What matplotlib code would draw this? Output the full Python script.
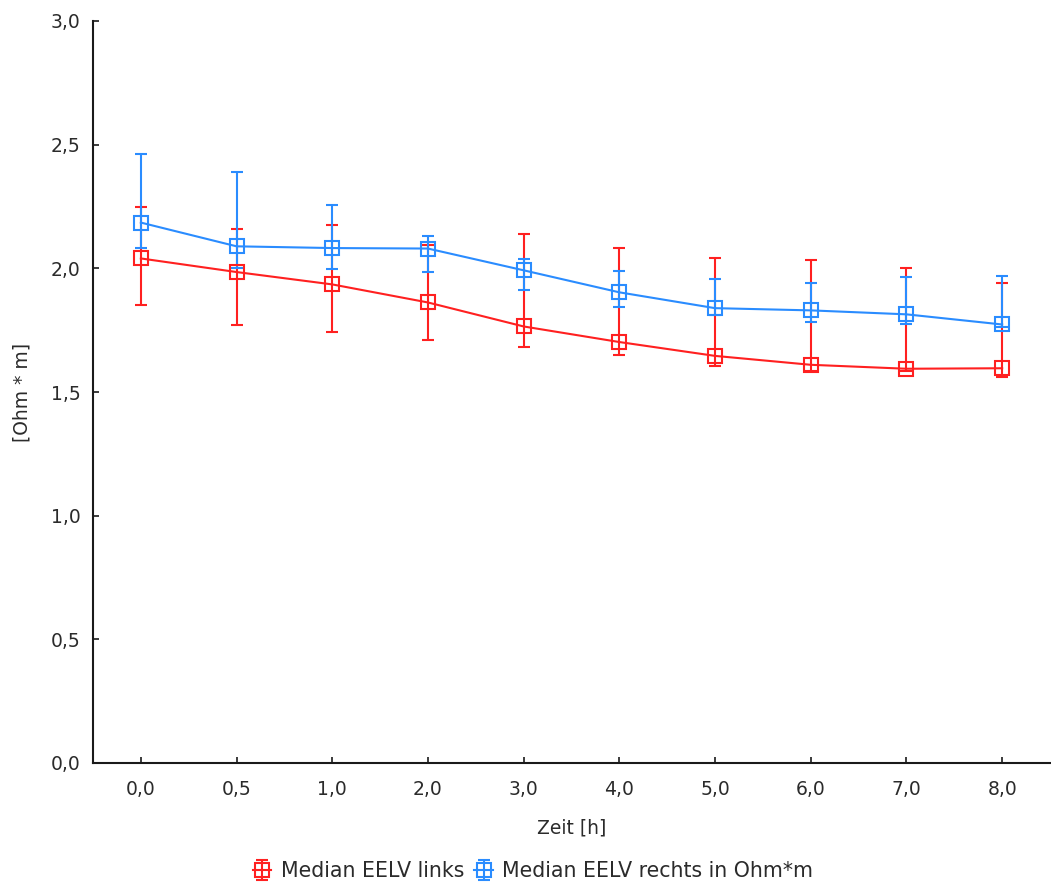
import matplotlib
matplotlib.use("Agg")
import matplotlib.pyplot as plt
import numpy as np

plt.rcParams['font.family'] = ['DejaVu Sans']

# Time points (categorical axis)
zeit_labels = ["0,0", "0,5", "1,0", "2,0", "3,0", "4,0", "5,0", "6,0", "7,0", "8,0"]

# Median EELV links with lower / upper whisker
links_median = [2.040, 1.985, 1.935, 1.862, 1.765, 1.702, 1.646, 1.610, 1.594, 1.596]
links_lower = [1.850, 1.769, 1.744, 1.711, 1.681, 1.648, 1.607, 1.584, 1.583, 1.560]
links_upper = [2.246, 2.158, 2.174, 2.096, 2.140, 2.084, 2.043, 2.035, 2.003, 1.939]

# Median EELV rechts with lower / upper whisker
rechts_median = [2.185, 2.089, 2.082, 2.080, 1.992, 1.903, 1.839, 1.830, 1.814, 1.773]
rechts_lower = [2.084, 2.001, 1.996, 1.987, 1.914, 1.842, 1.810, 1.785, 1.776, 1.762]
rechts_upper = [2.464, 2.391, 2.255, 2.132, 2.036, 1.988, 1.955, 1.939, 1.964, 1.970]

y_ticks = [0.0, 0.5, 1.0, 1.5, 2.0, 2.5, 3.0]

RED = '#ff2020'
BLUE = '#2a8cff'
TEXT = '#2b2b2b'
FS = 13.5

fig = plt.figure(figsize=(10.51, 8.90), dpi=100)
ax = fig.add_axes([93 / 1051, 1 - 763 / 890, (1050 - 93) / 1051, (763 - 21) / 890])

x = np.arange(len(zeit_labels))


def draw_series(med, lo, hi, color, label):
    med = np.asarray(med)
    err = np.vstack([med - np.asarray(lo), np.asarray(hi) - med])
    return ax.errorbar(x, med, yerr=err, color=color, lw=1.5, elinewidth=1.5,
                       capsize=4, capthick=1.5, marker='s', markersize=10,
                       markerfacecolor='none', markeredgewidth=1.5,
                       markeredgecolor=color, label=label)


h1 = draw_series(links_median, links_lower, links_upper, RED, 'Median EELV links')
h2 = draw_series(rechts_median, rechts_lower, rechts_upper, BLUE,
                 'Median EELV rechts in Ohm*m')

ax.set_xlim(-0.5, len(zeit_labels) - 0.5)
ax.set_ylim(0, 3.0)
ax.set_xticks(x)
ax.set_xticklabels(zeit_labels)
ax.set_yticks(y_ticks)
ax.set_yticklabels([f"{v:.1f}".replace('.', ',') for v in y_ticks])

for side in ('top', 'right'):
    ax.spines[side].set_visible(False)
for side in ('left', 'bottom'):
    ax.spines[side].set_linewidth(1.5)
    ax.spines[side].set_color('#1a1a1a')

ax.tick_params(direction='in', length=4, width=1.2, color='#1a1a1a',
               labelsize=FS, labelcolor=TEXT)
ax.tick_params(axis='y', pad=9)
ax.tick_params(axis='x', pad=12)

ax.set_xlabel('Zeit [h]', fontsize=FS, color=TEXT, labelpad=14)
ax.set_ylabel('[Ohm * m]', fontsize=FS, color=TEXT, labelpad=14)

fig.legend(handles=[h1, h2], loc='center', bbox_to_anchor=(533 / 1051, 1 - 871 / 890),
           ncol=2, frameon=False, fontsize=14.8, labelcolor=TEXT,
           handlelength=0.9, handletextpad=0.45, columnspacing=0.5, borderpad=0)

fig.savefig('out.png', dpi=100, facecolor='white')
